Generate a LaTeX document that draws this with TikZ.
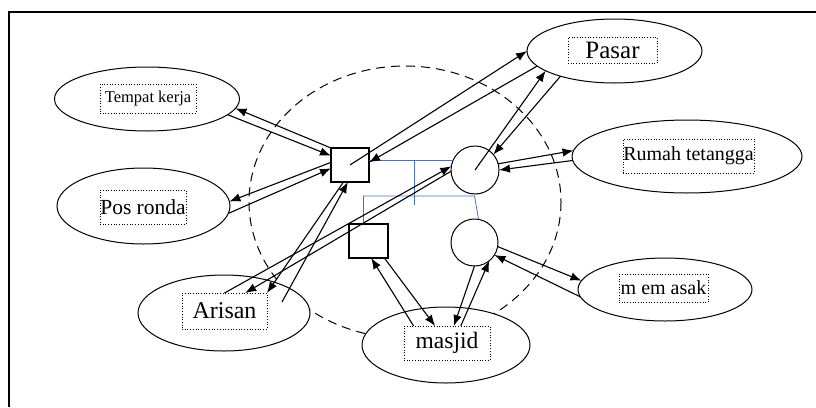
\documentclass[tikz,border=0pt]{standalone}
\usepackage{fontspec}
\setmainfont{Liberation Serif}
\usepackage{xcolor}
\usepackage{tikz}
\usetikzlibrary{arrows.meta,shapes.geometric,calc}
\definecolor{kinblue}{RGB}{70,114,196}

\begin{document}
\begin{tikzpicture}[
    x=1pt, y=-1pt,
    >={Latex[length=11pt,width=8.5pt]},
    every node/.style={inner sep=0pt, outer sep=0pt},
    venue/.style={ellipse, draw, line width=1pt, fill=white},
    namebox/.style={draw, dotted, line width=0.7pt},
    male/.style={rectangle, draw, line width=1.3pt, fill=white},
    female/.style={circle, draw, line width=1pt, fill=white, minimum size=47pt},
    tie/.style={->, line width=1.1pt},
    kin/.style={kinblue, line width=0.8pt}
]
\useasboundingbox (0,0) rectangle (816,407);

% Frame
\draw[line width=1.2pt] (9,407) -- (9,12) -- (816,12);

% Household boundary
\draw[dash pattern=on 9pt off 6pt, line width=1pt]
    (405,202) ellipse [x radius=156, y radius=136];

% Places
\node[venue, minimum width=185pt, minimum height=64pt] (tk) at (147,99) {};
\node[venue, minimum width=173pt, minimum height=76pt] (pr) at (143.5,206) {};
\node[venue, minimum width=175pt, minimum height=64pt] (ps) at (614.5,51) {};
\node[venue, minimum width=230pt, minimum height=73pt] (rt) at (687,156.5) {};
\node[venue, minimum width=174pt, minimum height=63pt] (mm) at (665,289.5) {};
\node[venue, minimum width=172pt, minimum height=76pt] (ar) at (224,313) {};
\node[venue, minimum width=168pt, minimum height=76pt] (mj) at (446,345) {};

% Place names
\node[namebox, minimum width=96pt, minimum height=29pt,
    font=\fontsize{16.5}{17}\selectfont] (tkt) at (148,98.5) {Tempat kerja};
\node[namebox, minimum width=86pt, minimum height=34pt,
    font=\fontsize{21.5}{22}\selectfont] (prt) at (143,207) {Pos ronda};
\node[namebox, minimum width=89pt, minimum height=26pt,
    font=\fontsize{25}{25}\selectfont] (pst) at (612.5,50) {Pasar};
\node[namebox, minimum width=131pt, minimum height=34pt,
    font=\fontsize{20}{20}\selectfont] (rtt) at (688.5,156) {Rumah tetangga};
\node[namebox, minimum width=89pt, minimum height=28pt,
    font=\fontsize{20}{20}\selectfont] (mmt) at (663.5,288) {m em asak};
\node[namebox, minimum width=85pt, minimum height=36pt,
    font=\fontsize{24}{24}\selectfont] (art) at (224.5,311) {Arisan};
\node[namebox, minimum width=86pt, minimum height=34pt,
    font=\fontsize{23.5}{24}\selectfont] (mjt) at (447,343) {masjid};

% Family members
\node[male, minimum width=38pt, minimum height=34pt] (sq1) at (350,165) {};
\node[female, minimum height=48pt] (c1) at (475,170) {};
\node[male, minimum width=39pt, minimum height=34pt] (sq2) at (368.5,241) {};
\node[female] (c2) at (474.5,242.5) {};

% Kinship lines
\draw[kin] (sq1.east |- c1.157) -- (c1.157);
\coordinate (kawin) at ($(sq1.east |- c1.157)!0.54!(c1.157)$);
\draw[kin] (kawin) -- ++(0,44);
\draw[kin] ([xshift=-5pt]sq2.north) -- ++(0,-28)
    -- ([yshift=23pt]c2.north) -- ([xshift=4pt]c2.north);

% Relations of the husband
\draw[tie] (sq1.north west) -- (tk.-6);
\draw[tie] (tk.-11) -- (sq1.154);
\draw[tie] (sq1.172) -- (pr.3);
\draw[tie] (pr.-5) -- (sq1.190);
\draw[tie] (sq1.center) -- (ps.180);
\draw[tie] (ps.191) -- (sq1.8);
\draw[tie] ([xshift=15pt,yshift=9pt]art.east) -- (sq1.263);
\draw[tie] (sq1.249) -- (art.north east);

% Relations of the wife
\draw[tie] (c1.center) -- (ps.196);
\draw[tie] (ps.205) -- (c1.40);
\draw[tie] (c1.15) -- (rt.177);
\draw[tie] (rt.182) -- (c1.east);
\draw[tie] (art.north) -- (c1.171);
\draw[tie] (c1.183) -- (art.41);

% Relations of the children
\draw[tie] (c2.-10) -- (mm.174);
\draw[tie] (mm.185) -- (c2.-32);
\draw[tie] (c2.south) -- (mjt.68);
\draw[tie] (mjt.51) -- (c2.-51);
\draw[tie] (mjt.153) -- (sq2.-81);
\draw[tie] (sq2.-47) -- (mjt.125);

\end{tikzpicture}
\end{document}
